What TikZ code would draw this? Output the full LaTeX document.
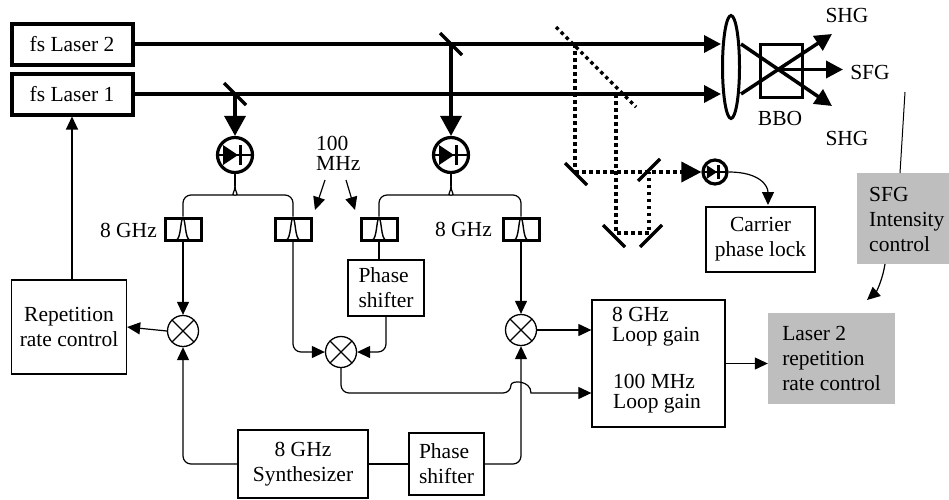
\documentclass[tikz,border=0pt]{standalone}
\usepackage{fontspec}
\setmainfont{Liberation Serif}
\newfontfamily\tms{Liberation Serif}
\usetikzlibrary{arrows.meta,shapes.geometric}
\newcommand\dfont{\tms\fontsize{21.5}{25}\selectfont}
\newcommand\tfont{\tms\fontsize{21.5}{20}\selectfont}
\definecolor{boxgray}{RGB}{190,190,190}
\tikzset{
  pdsym/.pic={
    \draw[line width=2pt] (-16,0) -- (16,0);
    \fill (-12,-10) -- (-12,10) -- (3,0) -- cycle;
    \draw[line width=3pt] (5,-10) -- (5,10);
  }
}
\begin{document}
\begin{tikzpicture}[x=1pt,y=-1pt,
  wire/.style={line width=1.2pt},
  beam/.style={line width=3.5pt},
  dotbeam/.style={line width=3.5pt, dash pattern=on 3.5pt off 3.5pt},
  mirror/.style={line width=3.5pt},
  tarr/.style={-{Triangle[length=13pt,width=12pt]}},
  barr/.style={-{Triangle[length=17pt,width=17pt]}},
  parr/.style={-{Triangle[length=20pt,width=21pt]}},
  box/.style={draw, line width=1.3pt, inner sep=0pt, align=center, font=\dfont},
  laserbox/.style={draw, line width=4pt, inner sep=0pt, minimum width=121, minimum height=41, font=\dfont},
  graybox/.style={fill=boxgray, inner sep=0pt, align=left, font=\dfont},
  lbl/.style={inner sep=0pt, font=\dfont},
  mix/.style={circle, draw, line width=1.3pt, minimum size=31, inner sep=0pt,
    path picture={\draw[line width=1.3pt] (path picture bounding box.north west) -- (path picture bounding box.south east)
      (path picture bounding box.north east) -- (path picture bounding box.south west);}},
  filt/.style={draw, line width=3pt, minimum width=36, minimum height=22, inner sep=0pt,
    path picture={\begin{scope}[shift={(path picture bounding box.center)}]
      \draw[line width=1.4pt] (-20,11) -- (-7,11) .. controls (-2,11) and (-2.5,-11) .. (0,-11)
        .. controls (2.5,-11) and (2,11) .. (7,11) -- (20,11);
      \end{scope}}},
  pd/.style={circle, draw, line width=3.2pt, minimum size=#1, inner sep=0pt},
]
\fill[white] (0,0) rectangle (949,499);
\useasboundingbox (0,0) rectangle (949,499);

% lasers and beams
\node[laserbox] (L2) at (72,44) {fs Laser 2};
\node[laserbox] (L1) at (72,94) {fs Laser 1};
\node[draw, ellipse, line width=3pt, minimum width=17, minimum height=103, inner sep=0pt] (lens) at (731,67) {};
\node[draw, line width=3pt, minimum width=42, minimum height=53, inner sep=0pt] (bbo) at (781,71) {};
\node[lbl] (bbot) at (780,118) {BBO};
\node[lbl] (shg1) at (847,15) {SHG};
\node[lbl] (sfg) at (870,72) {SFG};
\node[lbl] (shg2) at (847,138) {SHG};

\draw[beam, barr] (L2.east) -- (L2.east -| lens.west);
\draw[beam, barr] (L1.east) -- (L1.east -| lens.west);
\coordinate (shgT) at (832,34);
\coordinate (shgB) at (832,106);
\coordinate (xc) at (777,69.5);
\coordinate (sfgT) at (843,69.5);
\draw[beam, barr] (lens.east |- L2.east) -- (shgB);
\draw[beam, barr] (lens.east |- L1.east) -- (shgT);
\draw[beam, barr] (xc) -- (sfgT);

% mirrors and photodiodes
\coordinate (M1) at (235,94);
\coordinate (M2) at (451,44);
\draw[mirror] (M1) +(-11,-11) -- +(11,11);
\draw[mirror] (M2) +(-11,-11) -- +(11,11);
\node[pd=35] (PD1) at (235,155) {};
\node[pd=35] (PD2) at (451,155) {};
\node[pd=24] (PD3) at (715,172) {};
\pic at (PD1) {pdsym};
\pic at (PD2) {pdsym};
\pic[scale=0.68] at (PD3) {pdsym};
\draw[beam, parr] (M1) -- (PD1.north);
\draw[beam, parr] (M2) -- (PD2.north);

% filters
\node[filt] (F1) at (183,229) {};
\node[filt] (F2) at (293,229) {};
\node[filt] (F3) at (379,229) {};
\node[filt] (F4) at (521,229) {};
\node[lbl, anchor=east] (g1) at (157,230) {8 GHz};
\node[lbl, anchor=east] (g2) at (492,229) {8 GHz};
\node[lbl, font=\tfont, align=left, anchor=west] (mhz) at (316,153) {100\\MHz};
\coordinate (ma1) at (325,180);
\coordinate (ma1e) at (315,210);
\coordinate (ma2) at (346,180);
\coordinate (ma2e) at (355,210);
\draw[wire, tarr] (ma1) -- (ma1e);
\draw[wire, tarr] (ma2) -- (ma2e);

% braces
\coordinate (b1) at (235,186);
\coordinate (b2) at (451,186);
\draw[wire] (PD1.south) -- (b1);
\draw[wire] (PD2.south) -- (b2);
\draw[wire, rounded corners=8] (b1) .. controls (235,192) and (231,195) .. (226,195) -| (F1.north);
\draw[wire, rounded corners=8] (b1) .. controls (235,192) and (239,195) .. (244,195) -| (F2.north);
\draw[wire, rounded corners=8] (b2) .. controls (451,192) and (447,195) .. (442,195) -| (F3.north);
\draw[wire, rounded corners=8] (b2) .. controls (451,192) and (455,195) .. (460,195) -| (F4.north);

% mixers and boxes
\node[mix] (X1) at (183,331) {};
\node[mix] (X2) at (341,352) {};
\node[mix] (X3) at (521,330) {};
\node[box, minimum width=115, minimum height=94] (RR) at (69,327) {Repetition\\rate control};
\node[box, minimum width=130, minimum height=68] (Syn) at (303,464) {8 GHz\\Synthesizer};
\node[box, minimum width=75, minimum height=62, align=left] (PS2) at (446.5,464) {Phase\\shifter};
\node[box, minimum width=76, minimum height=56, align=left] (PS1) at (386,288) {Phase\\shifter};
\node[box, minimum width=109, minimum height=65] (CPL) at (760.5,239.5) {Carrier\\phase lock};
\node[box, minimum width=133, minimum height=127] (LG) at (658.5,363.5) {};
\node[lbl, font=\tfont, align=left, anchor=west] (lg1) at (612,327) {8 GHz\\Loop gain};
\node[lbl, font=\tfont, align=left, anchor=west] (lg2) at (613,394) {100 MHz\\Loop gain};
\node[graybox, minimum width=127, minimum height=91] (L2R) at (831.5,358.5) {Laser 2\\repetition\\rate control};
\node[fill=boxgray, minimum width=93, minimum height=91, inner sep=0pt] (SFGc) at (903.5,218.5) {};
\node[lbl, align=left, anchor=west] (sfgt) at (869,219) {SFG\\Intensity\\control};

% wires
\draw[wire, tarr] (F1.south) -- (X1.north);
\draw[wire, tarr] (X1.west) -- (RR.east);
\draw[wire, tarr] (RR.north -| L1.south) -- (L1.south);
\draw[wire, tarr, rounded corners=8] (Syn.west) -| (X1.south);
\draw[wire] (Syn.east) -- (PS2.west);
\draw[wire, tarr, rounded corners=8] (PS2.east) -| (X3.south);
\draw[wire, tarr, rounded corners=8] (F2.south) |- (X2.west);
\draw[wire] (F3.south) -- (F3.south |- PS1.north);
\draw[wire, tarr, rounded corners=8] (PS1.south) |- (X2.east);
\draw[wire, tarr] (F4.south) -- (X3.north);
\draw[wire, tarr] (X3.east) -- (X3.east -| LG.west);
\coordinate (hopL) at (511,393);
\coordinate (hopR) at (531,393);
\draw[wire, tarr] [rounded corners=8] (X2.south) |- (hopL) [sharp corners] .. controls (511,380) and (531,380) .. (hopR) -- (hopR -| LG.west);
\draw[wire, tarr] (LG.east) -- (LG.east -| L2R.west);

\coordinate (sfgtap) at (905,92);
\coordinate (sfgin) at (900,173);
\draw[line width=1pt] (sfgtap) -- (sfgin);
\coordinate (sfgout) at (885,264);
\coordinate (sfgend) at (867,300);
\draw[wire, tarr] (sfgout) .. controls (882,282) and (876,292) .. (sfgend);
\coordinate (cplin) at (768,205);
\draw[wire, tarr] (PD3.east) .. controls (760,172) and (768,186) .. (cplin);

% dotted carrier-phase path
\coordinate (dA) at (556,27);
\coordinate (dB) at (636,107);
\coordinate (tap2) at (575,44);
\coordinate (tap1) at (616,94);
\coordinate (cA) at (575,172);
\coordinate (cB) at (616,233);
\coordinate (cC) at (649,233);
\coordinate (cD) at (649,172);
\draw[dotbeam] (dA) -- (dB);
\draw[dotbeam] (tap2) -- (cA);
\draw[dotbeam] (tap1) -- (cB) -- (cC) -- (cD);
\draw[dotbeam, -{Triangle[length=20pt,width=20pt]}] (cA) -- (PD3.west);
\draw[mirror] (576,174) +(-11,-11) -- +(11,11);
\draw[mirror] (614,236) +(-11,-11) -- +(11,11);
\draw[mirror] (651,236) +(-11,11) -- +(11,-11);
\draw[mirror] (649,170) +(-11,11) -- +(11,-11);
\end{tikzpicture}
\end{document}
